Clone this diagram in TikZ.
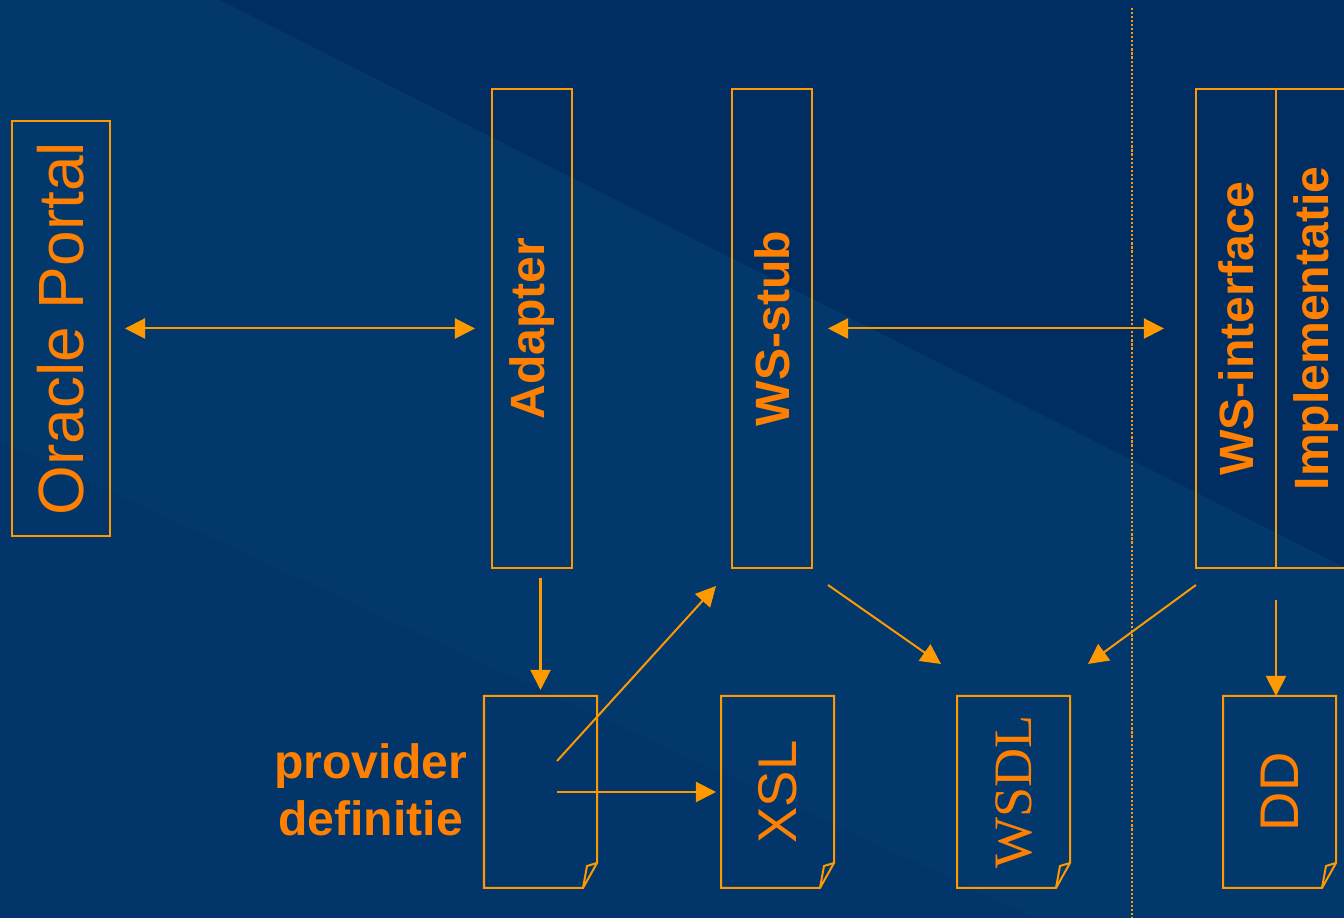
\documentclass[tikz,border=0pt]{standalone}
\usepackage{fontspec}
\setmainfont{Liberation Sans}
\newfontfamily\docserif{Liberation Serif}
\usetikzlibrary{arrows.meta,positioning}
\definecolor{bglight}{RGB}{3,56,109}
\definecolor{bgdark}{RGB}{0,46,99}
\definecolor{bglow}{RGB}{2,53,106}
\definecolor{linecol}{RGB}{255,153,0}
\definecolor{textcol}{RGB}{255,128,0}

\begin{document}
\begin{tikzpicture}[>={Triangle[length=5.7pt,width=5.7pt]},line width=0.57pt,
    main box/.style={rectangle,draw=linecol,outer sep=0pt,inner sep=0pt,minimum width=0.8cm,
      minimum height=4.79cm,text=textcol,font=\fontsize{13.7}{14}\selectfont\bfseries},
    doc box/.style={rectangle,outer sep=0pt,inner sep=0pt,minimum width=1.13cm,
      minimum height=1.92cm,text=textcol,font=\fontsize{15.5}{16}\selectfont},
    flow/.style={->,draw=linecol}]

  % background
  \clip (0,0) rectangle (13.44,9.18);
  \fill[bglight] (0,0) rectangle (13.44,9.18);
  \fill[bgdark] (2.2,9.18) -- (13.44,9.18) -- (13.44,3.51) -- cycle;
  \fill[bglow] (0,4.77) -- (10.36,0) -- (0,0) -- cycle;

  % top row
  \node[main box] (adapter) at (5.32,5.895) {\rotatebox{90}{Adapter}};
  \node[main box,minimum width=0.98cm,minimum height=4.15cm,
    font=\fontsize{18.2}{19}\selectfont] (portal) [left=3.82cm of adapter] {\rotatebox{90}{Oracle Portal}};
  \node[main box] (stub) [right=1.6cm of adapter] {\rotatebox{90}{WS-stub}};
  \node[main box] (iface) [right=3.84cm of stub] {\rotatebox{90}{WS-interface}};
  \node[main box] (impl) [right=0cm of iface] {\rotatebox{90}{Implementatie}};

  % documents
  \node[doc box] (prov) at (5.405,1.26) {};
  \node[doc box] (xsl) [right=1.24cm of prov] {\rotatebox{90}{XSL}};
  \node[doc box,font=\docserif\fontsize{15.4}{16}\selectfont] (wsdl) [right=1.23cm of xsl] {\rotatebox{90}{WSDL}};
  \node[doc box] (dd) [right=1.53cm of wsdl] {\rotatebox{90}{DD}};
  \node[text=textcol,font=\fontsize{13.7}{16.2}\selectfont\bfseries,align=center,inner sep=0pt]
    (provtext) [left=0.16cm of prov, yshift=0.02cm] {provider\\definitie};

  \foreach \d in {prov,xsl,wsdl,dd} {
    \draw[linecol] (\d.north west) -- (\d.north east) -- ([yshift=0.25cm]\d.south east)
      -- ([xshift=-0.14cm]\d.south east) -- (\d.south west) -- cycle;
    \draw[linecol] ([xshift=-0.14cm]\d.south east) -- ([xshift=-0.1cm,yshift=0.22cm]\d.south east)
      -- ([yshift=0.25cm]\d.south east);
  }

  % separator
  \draw[linecol,line width=0.45pt,dash pattern=on 0.6pt off 0.55pt] (11.32,9.10) -- (11.32,0);

  % connectors
  \draw[flow,<->,shorten <=0.15cm,shorten >=0.17cm] (portal) -- (adapter);
  \draw[flow,<->,shorten <=0.16cm,shorten >=0.32cm] (stub) -- (iface);
  \draw[flow,shorten <=0.1cm,shorten >=0.06cm] (prov.north |- adapter.south) -- (prov.north);
  \draw[flow] ([shift={(0.165,0.31)}]prov.center) -- ([shift={(-0.16,-0.18)}]stub.south west);
  \draw[flow,shorten >=0.05cm] ([xshift=0.165cm]prov.center) -- (prov.center -| xsl.west);
  \draw[flow] ([shift={(0.16,-0.17)}]stub.south east) -- ([shift={(-0.16,0.32)}]wsdl.north west);
  \draw[flow] ([yshift=-0.17cm]iface.south west) -- ([shift={(0.18,0.32)}]wsdl.north east);
  \draw[flow,shorten <=0.32cm] (iface.south east) -- (iface.south east |- dd.north);
\end{tikzpicture}
\end{document}
